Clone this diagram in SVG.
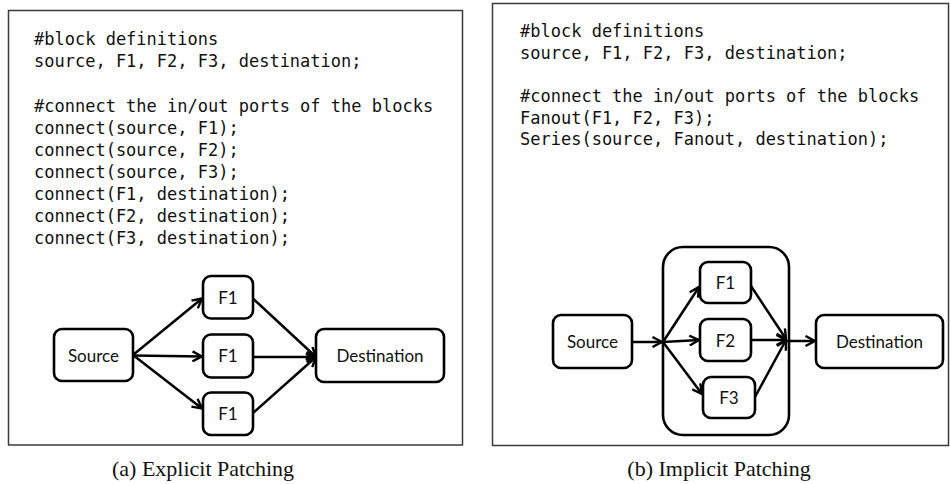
<svg xmlns="http://www.w3.org/2000/svg" width="950" height="484" viewBox="0 0 950 484">
  <style>
    .panel { fill: #ffffff; stroke: #3a3a3a; stroke-width: 1.5; }
    .code { font-family: "DejaVu Sans Mono", "Liberation Mono", monospace; font-size: 17px; fill: #111111; }
    .box { fill: #ffffff; stroke: #000000; stroke-width: 2.6; }
    .label { font-family: Lato, "Open Sans", "Liberation Sans", sans-serif; font-size: 17px; fill: #111111; text-anchor: middle; }
    .edge { fill: none; stroke: #000000; stroke-width: 2.5; marker-end: url(#chevron); }
    .caption { font-family: "Liberation Serif", "Times New Roman", serif; font-size: 22px; fill: #111111; text-anchor: middle; }
  </style>
  <defs>
    <marker id="chevron" viewBox="0 0 12 12" refX="11" refY="6" markerWidth="12" markerHeight="12" markerUnits="userSpaceOnUse" orient="auto">
      <path d="M1.5,1 L11,6 L1.5,11" fill="none" stroke="#000000" stroke-width="2.4" stroke-linejoin="miter"/>
    </marker>
  </defs>

  <rect width="950" height="484" fill="#ffffff"/>

  <!-- (a) explicit patching -->
  <g id="panel-a">
    <rect class="panel" x="8.5" y="10.5" width="454" height="434.5"/>
    <g class="code">
      <text x="34" y="45">#block definitions</text>
      <text x="34" y="67">source, F1, F2, F3, destination;</text>
      <text x="34" y="112">#connect the in/out ports of the blocks</text>
      <text x="34" y="134">connect(source, F1);</text>
      <text x="34" y="156">connect(source, F2);</text>
      <text x="34" y="178">connect(source, F3);</text>
      <text x="34" y="200">connect(F1, destination);</text>
      <text x="34" y="222">connect(F2, destination);</text>
      <text x="34" y="244">connect(F3, destination);</text>
    </g>
  </g>

  <g id="a-source">
    <rect class="box" x="54" y="329" width="79" height="52" rx="8"/>
    <text class="label" x="93.5" y="361.5">Source</text>
  </g>
  <g id="a-f1-top">
    <rect class="box" x="203" y="276" width="50" height="42.5" rx="8"/>
    <text class="label" x="228" y="303.5">F1</text>
  </g>
  <g id="a-f1-mid">
    <rect class="box" x="203" y="334.5" width="50" height="43" rx="8"/>
    <text class="label" x="228" y="362">F1</text>
  </g>
  <g id="a-f1-bottom">
    <rect class="box" x="203" y="392.5" width="50" height="42.5" rx="8"/>
    <text class="label" x="228" y="420">F1</text>
  </g>
  <g id="a-destination">
    <rect class="box" x="316" y="329" width="128" height="53" rx="8"/>
    <text class="label" x="380" y="361.5">Destination</text>
  </g>

  <g id="a-connectors">
    <line class="edge" x1="133" y1="355" x2="202" y2="298.5"/>
    <line class="edge" x1="133" y1="355.5" x2="202" y2="356.5"/>
    <line class="edge" x1="133" y1="355" x2="202" y2="408.5"/>
    <line class="edge" x1="253" y1="298.5" x2="316" y2="357"/>
    <line class="edge" x1="253" y1="357" x2="316" y2="357"/>
    <line class="edge" x1="253" y1="413" x2="316" y2="357"/>
  </g>

  <text class="caption" x="203" y="476">(a) Explicit Patching</text>

  <!-- (b) implicit patching -->
  <g id="panel-b">
    <rect class="panel" x="492.5" y="3.5" width="456" height="442"/>
    <g class="code">
      <text x="520" y="37">#block definitions</text>
      <text x="520" y="58.5">source, F1, F2, F3, destination;</text>
      <text x="520" y="102">#connect the in/out ports of the blocks</text>
      <text x="520" y="123.5">Fanout(F1, F2, F3);</text>
      <text x="520" y="145">Series(source, Fanout, destination);</text>
    </g>
  </g>

  <g id="b-fanout">
    <rect class="box" x="663" y="247" width="126" height="188" rx="20"/>
  </g>
  <g id="b-source">
    <rect class="box" x="553" y="315" width="79" height="53" rx="8"/>
    <text class="label" x="592.5" y="348">Source</text>
  </g>
  <g id="b-f1">
    <rect class="box" x="700" y="262" width="51" height="41" rx="8"/>
    <text class="label" x="725.5" y="289">F1</text>
  </g>
  <g id="b-f2">
    <rect class="box" x="700" y="319" width="51" height="42" rx="8"/>
    <text class="label" x="725.5" y="346.5">F2</text>
  </g>
  <g id="b-f3">
    <rect class="box" x="703" y="377" width="52" height="41" rx="8"/>
    <text class="label" x="729" y="404">F3</text>
  </g>
  <g id="b-destination">
    <rect class="box" x="816" y="315" width="127" height="53" rx="8"/>
    <text class="label" x="879.5" y="348">Destination</text>
  </g>

  <g id="b-connectors">
    <line class="edge" x1="632" y1="342" x2="662" y2="342"/>
    <line class="edge" x1="663" y1="342" x2="699" y2="287"/>
    <line class="edge" x1="663" y1="342" x2="699" y2="340"/>
    <line class="edge" x1="663" y1="342" x2="702" y2="394"/>
    <line class="edge" x1="751" y1="286" x2="786" y2="339"/>
    <line class="edge" x1="751" y1="340" x2="786" y2="340"/>
    <line class="edge" x1="755" y1="397" x2="786" y2="340"/>
    <line class="edge" x1="787" y1="341" x2="815" y2="341"/>
  </g>

  <text class="caption" x="719" y="476">(b) Implicit Patching</text>
</svg>
